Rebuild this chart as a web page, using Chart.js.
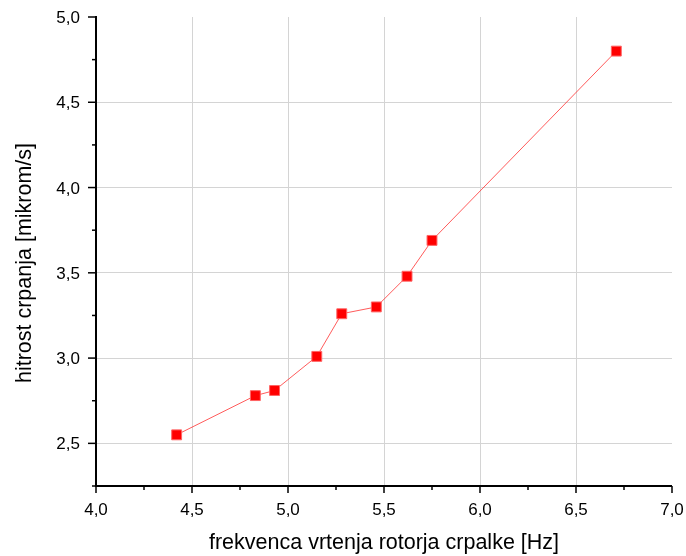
<!DOCTYPE html>
<html>
<head>
<meta charset="utf-8">
<script src="https://cdn.jsdelivr.net/npm/chart.js@4/dist/chart.umd.min.js"></script>
<style>
body { margin: 0; background: #fff; }
#wrap { width: 686px; height: 556px; }
</style>
</head>
<body>
<div id="wrap"><canvas id="c" width="686" height="556"></canvas></div>
<script>
// frekvenca [Hz] vs hitrost [mikrom/s]
var freq = [4.42, 4.83, 4.93, 5.15, 5.28, 5.46, 5.62, 5.75, 6.71]
var speed = [2.55, 2.78, 2.81, 3.01, 3.26, 3.30, 3.48, 3.69, 4.80]
var xTitle = 'frekvenca vrtenja rotorja crpalke [Hz]'
var yTitle = 'hitrost crpanja [mikrom/s]'

var pts = []
for (var i = 0; i < freq.length; i++) pts.push({x: freq[i], y: speed[i]})

function isMajor(v) { return Math.abs(v * 2 - Math.round(v * 2)) < 1e-6 }
function fmt(v) { return v.toFixed(1).replace('.', ',') }

// axis lines, major/minor ticks, tick labels and titles drawn by hand
var axesPlugin = {
    id: 'axes',
    afterDraw: function(chart) {
        var ctx = chart.ctx
        var a = chart.chartArea
        var xs = chart.scales.x, ys = chart.scales.y
        ctx.save()
        ctx.strokeStyle = '#000'
        ctx.lineWidth = 2
        ctx.beginPath()
        ctx.moveTo(a.left, a.top - 1)
        ctx.lineTo(a.left, a.bottom)
        ctx.lineTo(a.right, a.bottom)
        ctx.stroke()
        ctx.lineWidth = 1.5
        ctx.fillStyle = '#000'
        ctx.font = '17px "Liberation Sans", Arial, sans-serif'
        xs.ticks.forEach(function(t) {
            var px = xs.getPixelForValue(t.value)
            var maj = isMajor(t.value)
            ctx.beginPath()
            ctx.moveTo(px, a.bottom)
            ctx.lineTo(px, a.bottom + (maj ? 7 : 4))
            ctx.stroke()
            if (maj) {
                ctx.textAlign = 'center'
                ctx.textBaseline = 'alphabetic'
                ctx.fillText(fmt(t.value), px, a.bottom + 29)
            }
        })
        ys.ticks.forEach(function(t) {
            var py = ys.getPixelForValue(t.value)
            var maj = isMajor(t.value)
            ctx.beginPath()
            ctx.moveTo(a.left, py)
            ctx.lineTo(a.left - (maj ? 8 : 4), py)
            ctx.stroke()
            if (maj) {
                ctx.textAlign = 'right'
                ctx.textBaseline = 'alphabetic'
                ctx.fillText(fmt(t.value), a.left - 16, py + 6)
            }
        })
        ctx.font = '21.5px "Liberation Sans", Arial, sans-serif'
        ctx.textAlign = 'center'
        ctx.textBaseline = 'alphabetic'
        ctx.fillText(xTitle, (a.left + a.right) / 2, 549)
        ctx.translate(31, 263)
        ctx.rotate(-Math.PI / 2)
        ctx.fillText(yTitle, 0, 0)
        ctx.restore()
    }
}

new Chart(document.getElementById('c'), {
    type: 'scatter',
    data: {
        datasets: [{
            data: pts,
            showLine: true,
            borderColor: 'rgba(255,50,50,0.8)',
            borderWidth: 1,
            backgroundColor: '#ff0000',
            pointBackgroundColor: '#ff0000',
            pointBorderColor: 'rgba(255,100,100,1)',
            pointBorderWidth: 1,
            pointStyle: 'rect',
            pointRadius: 7,
            pointHoverRadius: 7
        }]
    },
    options: {
        responsive: false,
        animation: false,
        layout: { padding: { left: 0, right: 14, top: 17, bottom: 0 } },
        plugins: { legend: { display: false }, tooltip: { enabled: false } },
        scales: {
            x: {
                type: 'linear',
                min: 4.0,
                max: 7.0,
                afterFit: function(s) { s.height = 70 },
                border: { display: false },
                grid: {
                    drawTicks: false,
                    color: function(c) {
                        var v = c.tick.value
                        if (!isMajor(v) || v <= 4.0 || v >= 7.0) return 'rgba(0,0,0,0)'
                        return '#d4d4d4'
                    }
                },
                ticks: { stepSize: 0.25, autoSkip: false, display: false }
            },
            y: {
                type: 'linear',
                min: 2.25,
                max: 5.0,
                afterFit: function(s) { s.width = 96 },
                border: { display: false },
                grid: {
                    drawTicks: false,
                    color: function(c) {
                        var v = c.tick.value
                        if (!isMajor(v) || v >= 5.0) return 'rgba(0,0,0,0)'
                        return '#d4d4d4'
                    }
                },
                ticks: { stepSize: 0.25, autoSkip: false, display: false }
            }
        }
    },
    plugins: [axesPlugin]
})
</script>
</body>
</html>
